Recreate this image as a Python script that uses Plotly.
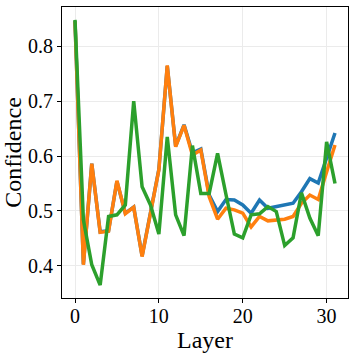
import plotly.graph_objects as go

# layer index 0..31
layers = list(range(32))

# confidence per layer
conf_blue = [0.846, 0.403, 0.586, 0.462, 0.464, 0.554, 0.496, 0.507, 0.418, 0.500,
             0.576, 0.764, 0.618, 0.657, 0.606, 0.613, 0.529, 0.499, 0.521, 0.520,
             0.511, 0.496, 0.520, 0.505, 0.508, 0.511, 0.514, 0.535, 0.559, 0.551,
             0.596, 0.642]
conf_orange = [0.845, 0.402, 0.586, 0.461, 0.463, 0.555, 0.495, 0.507, 0.417, 0.499,
               0.575, 0.765, 0.617, 0.656, 0.602, 0.611, 0.526, 0.485, 0.505, 0.502,
               0.496, 0.471, 0.490, 0.482, 0.484, 0.485, 0.490, 0.514, 0.529, 0.521,
               0.571, 0.620]
conf_green = [0.848, 0.484, 0.402, 0.365, 0.490, 0.493, 0.511, 0.700, 0.544, 0.511,
              0.458, 0.635, 0.493, 0.455, 0.619, 0.532, 0.532, 0.605, 0.530, 0.458,
              0.451, 0.493, 0.495, 0.508, 0.499, 0.437, 0.451, 0.533, 0.487, 0.455,
              0.626, 0.550]

COLORS = ["#1f77b4", "#ff7f0e", "#2ca02c"]
FONT = "Liberation Serif"

fig = go.Figure()
for ys, c in zip([conf_blue, conf_orange, conf_green], COLORS):
    fig.add_trace(go.Scatter(x=layers, y=ys, mode="lines",
                             line=dict(color=c, width=3.5), showlegend=False))

fig.update_xaxes(
    title_text="Layer",
    range=[-1.55, 32.55],
    tickvals=[0, 10, 20, 30],
    ticks="outside", ticklen=4, tickwidth=1.2, tickcolor="black",
    ticklabelstandoff=-4,
    showline=True, linecolor="black", linewidth=1.2, mirror=True,
    gridcolor="#ebebeb", zeroline=False,
    automargin=False,
    title_standoff=2,
)
fig.update_yaxes(
    title_text="Confidence",
    range=[0.3415, 0.8715],
    tickvals=[0.4, 0.5, 0.6, 0.7, 0.8],
    tickformat=".1f",
    ticks="outside", ticklen=4, tickwidth=1.2, tickcolor="black",
    showline=True, linecolor="black", linewidth=1.2, mirror=True,
    gridcolor="#ebebeb", zeroline=False,
    automargin=False,
    title_standoff=4,
)

fig.update_layout(
    width=356, height=356,
    margin=dict(l=62, r=8, t=7, b=58),
    plot_bgcolor="white", paper_bgcolor="white",
    font=dict(family=FONT, size=20, color="black"),
)

# page body has an 8px default margin; drop it so the figure sits at 0,0
fig.write_html("out.html", config={"displayModeBar": False},
               post_script="document.body.style.margin='0';document.body.style.overflow='hidden';")
